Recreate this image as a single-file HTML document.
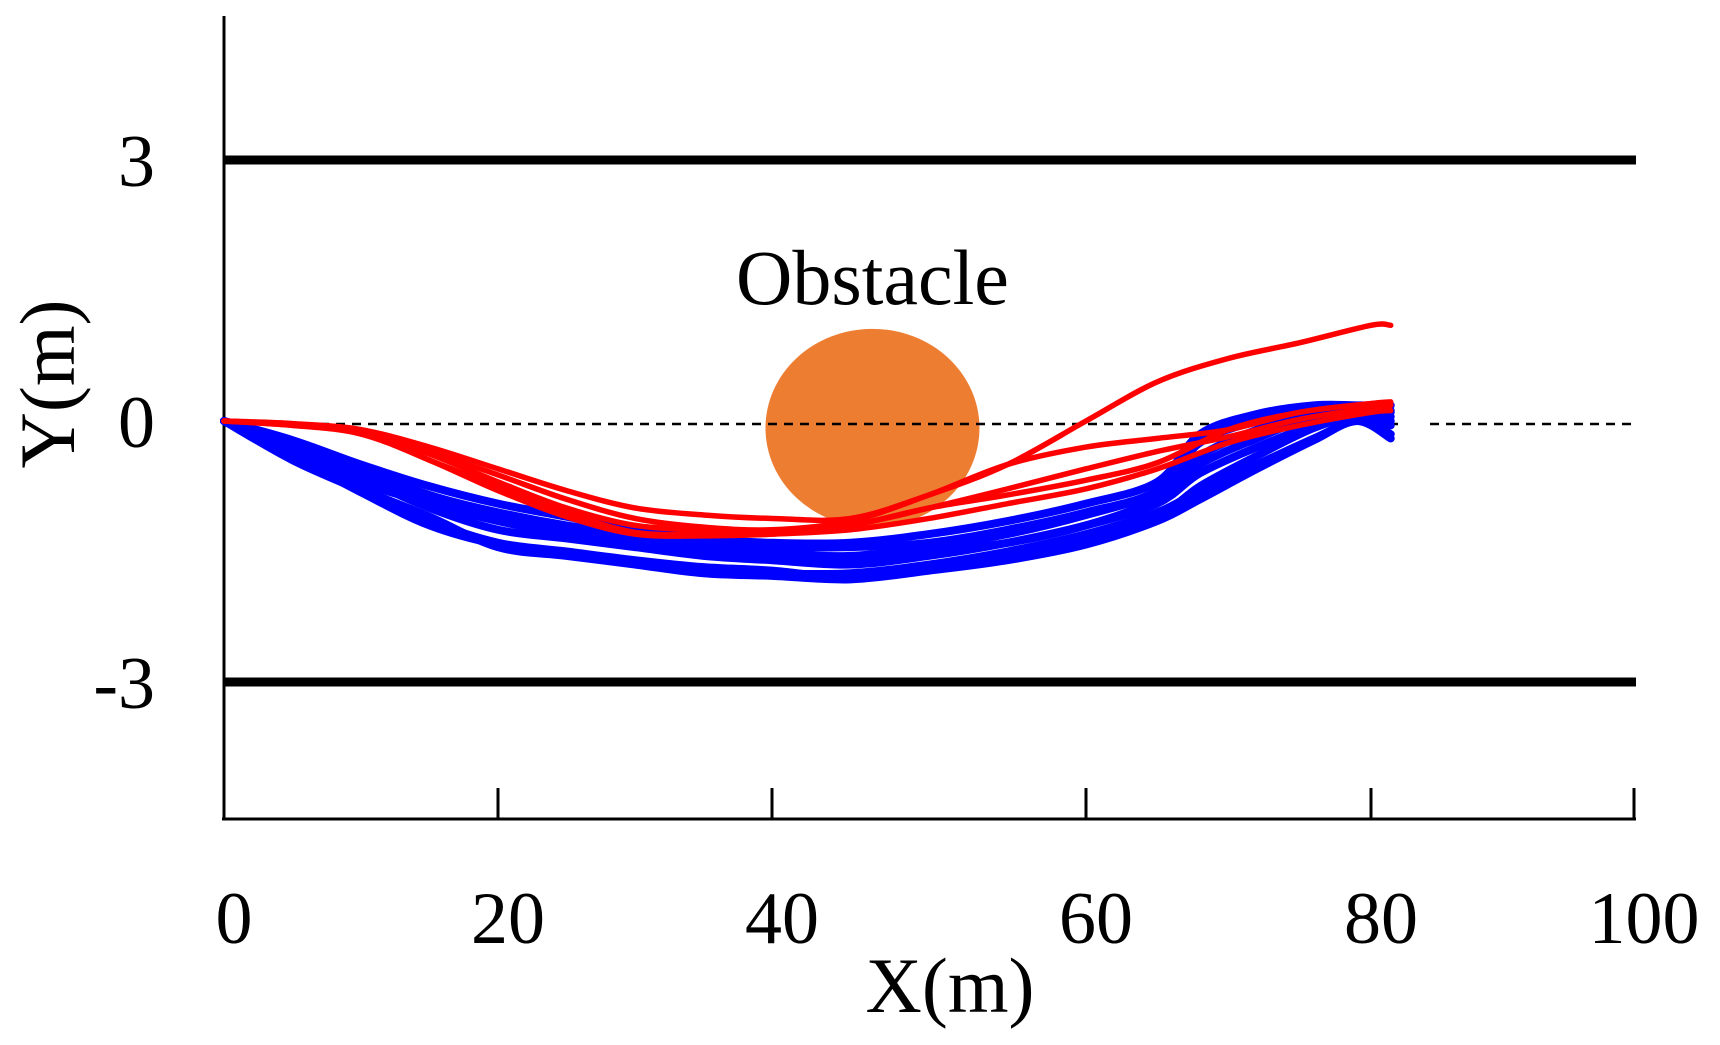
<!DOCTYPE html>
<html><head><meta charset="utf-8"><style>
html,body{margin:0;padding:0;background:#fff;}
svg{display:block;font-family:"Liberation Serif",serif;}
</style></head><body>
<svg id="chart" width="1720" height="1045" viewBox="0 0 1720 1045">
<g id="plot"></g>
</svg>
<script>
const xTicks=[0,20,40,60,80,100];
const xTickPx=[224,498,772,1086,1371,1634];
const yTicks=[3,0,-3];
const laneY=[3,-3];
const obstacleCenter=[46.4,0];
const obstacleRadius=0.95;
const blueX=[0,5,10,15,20,25,30,35,40,45,50,55,60,65,68,72,76,79,81.5];
const blueSeries=[
 [0,-0.45,-0.8,-1.15,-1.4,-1.5,-1.6,-1.68,-1.72,-1.8,-1.7,-1.55,-1.35,-1.1,-0.75,-0.4,-0.08,0.05,-0.05],
 [0,-0.35,-0.7,-0.95,-1.15,-1.3,-1.4,-1.5,-1.55,-1.6,-1.5,-1.4,-1.2,-0.9,-0.5,-0.2,0.05,0.1,0.05],
 [0,-0.25,-0.55,-0.85,-1.05,-1.2,-1.3,-1.4,-1.45,-1.45,-1.4,-1.25,-1.05,-0.8,-0.25,0.0,0.12,0.15,0.12],
 [0,-0.4,-0.82,-1.2,-1.42,-1.52,-1.62,-1.7,-1.75,-1.75,-1.65,-1.5,-1.3,-1.05,-0.8,-0.5,-0.2,0.0,-0.15],
 [0,-0.22,-0.5,-0.75,-0.95,-1.1,-1.25,-1.35,-1.4,-1.4,-1.3,-1.15,-0.95,-0.7,-0.15,0.08,0.18,0.18,0.18],
 [0,-0.3,-0.65,-1.0,-1.25,-1.35,-1.45,-1.55,-1.6,-1.65,-1.55,-1.4,-1.2,-0.95,-0.6,-0.3,-0.05,0.05,0.0],
 [0,-0.42,-0.78,-1.1,-1.45,-1.55,-1.65,-1.75,-1.78,-1.82,-1.72,-1.6,-1.42,-1.15,-0.9,-0.55,-0.22,0.0,-0.2],
 [0,-0.28,-0.6,-0.9,-1.1,-1.25,-1.35,-1.45,-1.52,-1.55,-1.45,-1.3,-1.08,-0.82,-0.4,-0.1,0.08,0.12,0.1]
];
const redX=[0,5,10,15,20,25,30,35,40,45,50,55,60,65,70,75,80,81.5];
const redSeries=[
 [0,-0.03,-0.1,-0.3,-0.55,-0.8,-1.0,-1.08,-1.12,-1.12,-0.85,-0.5,0.0,0.45,0.72,0.9,1.1,1.1],
 [0,-0.05,-0.12,-0.45,-0.75,-1.05,-1.28,-1.3,-1.3,-1.2,-1.0,-0.85,-0.68,-0.48,-0.1,0.1,0.2,0.22],
 [0,-0.04,-0.1,-0.35,-0.62,-0.9,-1.12,-1.22,-1.25,-1.15,-0.85,-0.5,-0.3,-0.2,-0.1,0.1,0.2,0.2],
 [0,-0.05,-0.15,-0.45,-0.8,-1.1,-1.3,-1.32,-1.3,-1.25,-1.12,-0.95,-0.78,-0.55,-0.25,-0.05,0.1,0.12],
 [0,-0.04,-0.12,-0.38,-0.7,-1.0,-1.2,-1.25,-1.28,-1.2,-1.0,-0.78,-0.55,-0.35,-0.18,0.02,0.15,0.18]
];
const NS="http://www.w3.org/2000/svg";
const plot=document.getElementById('plot');
const Y0=421, YS=87;
function sx(v){for(let i=0;i<xTicks.length-1;i++){if(v<=xTicks[i+1]||i===xTicks.length-2){const t=(v-xTicks[i])/(xTicks[i+1]-xTicks[i]);return xTickPx[i]+t*(xTickPx[i+1]-xTickPx[i]);}}}
function sy(v){return Y0-v*YS;}
function mk(tag,attrs){const e=document.createElementNS(NS,tag);for(const k in attrs)e.setAttribute(k,attrs[k]);plot.appendChild(e);return e;}
function smooth(pts){let d='M'+pts[0][0]+','+pts[0][1];for(let i=0;i<pts.length-1;i++){const p0=pts[i-1]||pts[i],p1=pts[i],p2=pts[i+1],p3=pts[i+2]||p2;const c1=[p1[0]+(p2[0]-p0[0])/6,p1[1]+(p2[1]-p0[1])/6],c2=[p2[0]-(p3[0]-p1[0])/6,p2[1]-(p3[1]-p1[1])/6];d+=' C'+c1+' '+c2+' '+p2;}return d;}
let e;
e=mk('line',{x1:224,y1:16,x2:224,y2:820,stroke:'#000','stroke-width':3});


e=mk('line',{x1:222,y1:819,x2:1636,y2:819,stroke:'#000','stroke-width':3});


xTicks.forEach((t,i)=>{const x=sx(t);
 if(i>0){e=mk('line',{x1:x,y1:788,x2:x,y2:819,stroke:'#000','stroke-width':3});
 
 }
 e=mk('text',{x:x+10,y:943,'font-size':74,'text-anchor':'middle'});e.textContent=t;
 
 
});
yTicks.forEach(t=>{e=mk('text',{x:155,y:sy(t)+26,'font-size':74,'text-anchor':'end'});e.textContent=t;
 
 });
laneY.forEach(t=>{e=mk('line',{x1:224,y1:sy(t),x2:1636,y2:sy(t),stroke:'#000','stroke-width':9});
 
 });
e=mk('ellipse',{cx:sx(obstacleCenter[0]),cy:sy(obstacleCenter[1])+7,rx:107,ry:obstacleRadius*YS*1.2,fill:'#ED7D31'});


e=mk('text',{x:sx(obstacleCenter[0]),y:304,'font-size':78,'text-anchor':'middle'});e.textContent='Obstacle';


e=mk('line',{x1:224,y1:sy(0)+3,x2:1398,y2:sy(0)+3,stroke:'#000','stroke-width':2.5,'stroke-dasharray':'9,7'});


e=mk('line',{x1:1430,y1:sy(0)+3,x2:1634,y2:sy(0)+3,stroke:'#000','stroke-width':2.5,'stroke-dasharray':'9,7'});


blueSeries.forEach(s=>{e=mk('path',{d:smooth(s.map((v,i)=>[sx(blueX[i]),sy(v)])),fill:'none',stroke:'#0000FF','stroke-width':8,'stroke-linecap':'round'});
 
 });
redSeries.forEach(s=>{e=mk('path',{d:smooth(s.map((v,i)=>[sx(redX[i]),sy(v)])),fill:'none',stroke:'#FF0000','stroke-width':5.5,'stroke-linecap':'round'});
 
 });
e=mk('text',{x:950,y:1012,'font-size':78,'text-anchor':'middle'});e.textContent='X(m)';


e=mk('text',{x:0,y:0,'font-size':78,'text-anchor':'middle',transform:'translate(74,384) rotate(-90)'});e.textContent='Y(m)';


</script>
</body></html>
